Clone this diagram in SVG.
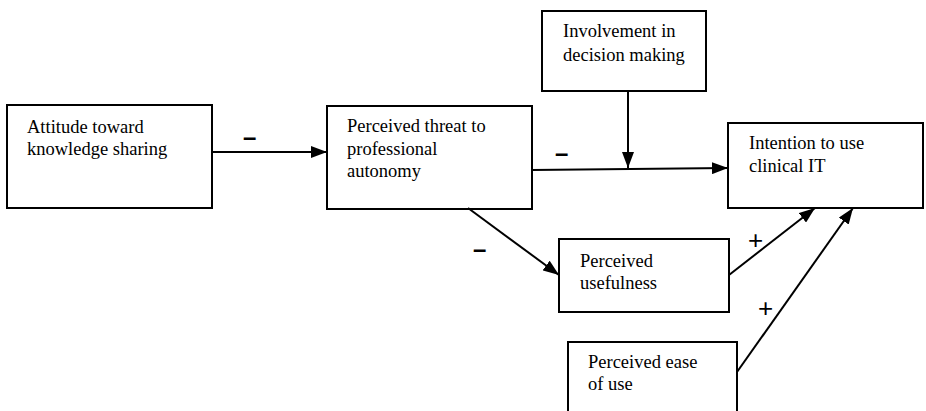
<svg xmlns="http://www.w3.org/2000/svg" width="926" height="411" viewBox="0 0 926 411">
<defs>
<marker id="ah" viewBox="0 0 16 12" refX="16" refY="6" markerWidth="16" markerHeight="12" markerUnits="userSpaceOnUse" orient="auto">
<path d="M0,0 L16,6 L0,12 Z" fill="#000"/>
</marker>
</defs>
<style>
.box{fill:#fff;stroke:#000;stroke-width:2}
.t{font-family:"Liberation Serif","Times New Roman",serif;font-size:18.5px;fill:#000}
.c{fill:none;stroke:#000;stroke-width:2}
.m{font-family:"Liberation Sans",Arial,sans-serif;font-weight:bold;font-size:24px;fill:#000}
.p{font-family:"Liberation Sans",Arial,sans-serif;font-size:26px;fill:#000}
</style>
<rect width="926" height="411" fill="#fff"/>
<g id="attitude">
<rect class="box" x="7" y="105" width="205" height="103"/>
<text class="t" x="27" y="133">Attitude toward</text>
<text class="t" x="27" y="155">knowledge sharing</text>
</g>
<g id="threat">
<rect class="box" x="327" y="106" width="205" height="103"/>
<text class="t" x="347" y="132">Perceived threat to</text>
<text class="t" x="347" y="155">professional</text>
<text class="t" x="347" y="177">autonomy</text>
</g>
<g id="involvement">
<rect class="box" x="542" y="11" width="164" height="80"/>
<text class="t" x="563" y="37">Involvement in</text>
<text class="t" x="563" y="61">decision making</text>
</g>
<g id="intention">
<rect class="box" x="728" y="123" width="195" height="85"/>
<text class="t" x="749" y="149">Intention to use</text>
<text class="t" x="749" y="172">clinical IT</text>
</g>
<g id="usefulness">
<rect class="box" x="559" y="239" width="170" height="73"/>
<text class="t" x="580" y="267">Perceived</text>
<text class="t" x="580" y="289">usefulness</text>
</g>
<g id="ease">
<rect class="box" x="568" y="342" width="169" height="80"/>
<text class="t" x="588" y="368">Perceived ease</text>
<text class="t" x="588" y="390">of use</text>
</g>
<g id="connectors">
<line class="c" x1="212" y1="152" x2="327" y2="152" marker-end="url(#ah)"/>
<line class="c" x1="532" y1="170" x2="728" y2="168" marker-end="url(#ah)"/>
<line class="c" x1="628" y1="91" x2="628" y2="168" marker-end="url(#ah)"/>
<line class="c" x1="468" y1="208" x2="559" y2="275" marker-end="url(#ah)"/>
<line class="c" x1="729" y1="275" x2="815" y2="208" marker-end="url(#ah)"/>
<line class="c" x1="737" y1="372" x2="853" y2="208" marker-end="url(#ah)"/>
<text class="m" x="243" y="145">–</text>
<text class="m" x="555" y="161">–</text>
<text class="m" x="473" y="257">–</text>
<text class="p" x="748" y="249">+</text>
<text class="p" x="758" y="317">+</text>
</g>
</svg>
